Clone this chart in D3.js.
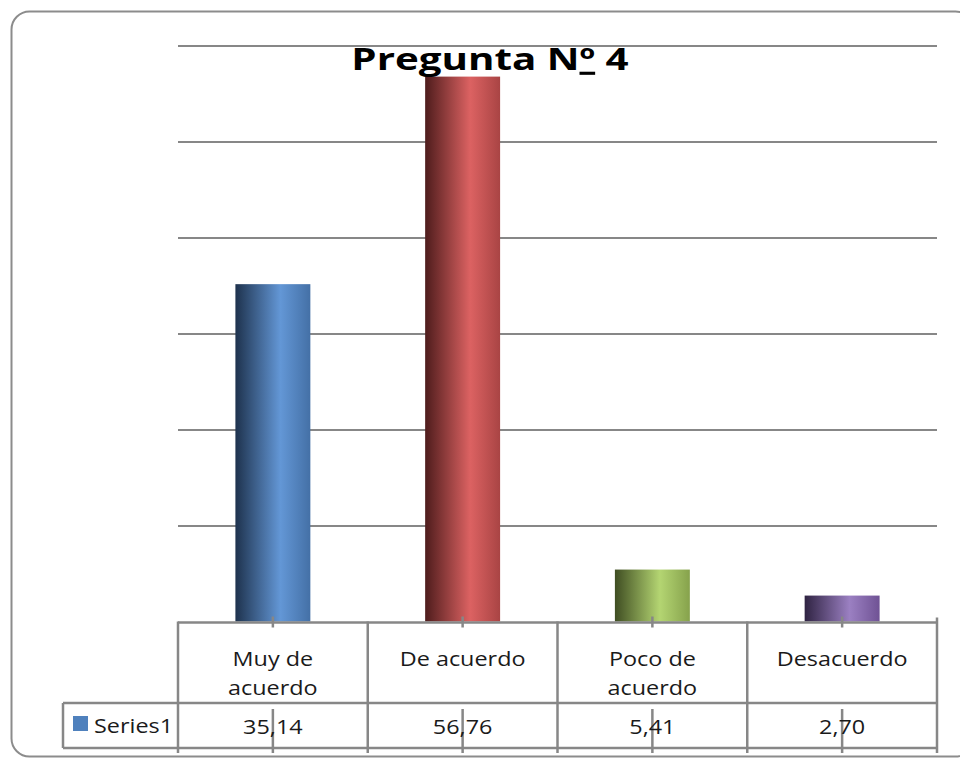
<!DOCTYPE html>
<html>
<head>
<meta charset="utf-8">
<script src="https://cdn.jsdelivr.net/npm/d3@7"></script>
<style>
  body { margin: 0; background: #fff; }
  svg { display: block; font-family: "Open Sans", Lato, sans-serif; }
</style>
</head>
<body>
<div class="canvas"></div>
<script>
// chart data
const title = ["Pregunta N", "º", " 4"];
const categories = ["Muy de acuerdo", "De acuerdo", "Poco de acuerdo", "Desacuerdo"];
const labelLines = [["Muy de", "acuerdo"], ["De acuerdo"], ["Poco de", "acuerdo"], ["Desacuerdo"]];
const values = [35.14, 56.76, 5.41, 2.70];
const seriesName = "Series1";
const yTicks = [10, 20, 30, 40, 50, 60];

// bar colours (dark edge, highlight, right edge)
const barColors = [
  ["#1e324d", "#6397d6", "#4470a6"],
  ["#4e1c1c", "#dc6262", "#a94444"],
  ["#3f4d22", "#b4d572", "#86a24c"],
  ["#2f2342", "#9b80c2", "#6f5294"],
];

// dimensions
const dims = { width: 960, height: 761 };
const plot = { left: 178, right: 937, top: 45.5, bottom: 621.5 };
const table = { catBottom: 703, valBottom: 748, keyLeft: 63 };
// the picture is stretched sideways, so text gets a horizontal scale
const textScale = 1.17;
const titleScale = 1.3;

const comma = d3.formatLocale({ decimal: ",", thousands: ".", grouping: [3], currency: ["", ""] }).format(".2f");

// svg
const svg = d3
  .select(".canvas")
  .append("svg")
  .attr("width", dims.width)
  .attr("height", dims.height);

// gradients
const defs = svg.append("defs");
barColors.forEach((c, i) => {
  const g = defs
    .append("linearGradient")
    .attr("id", `bar${i}`)
    .attr("x1", 0).attr("x2", 1).attr("y1", 0).attr("y2", 0);
  g.append("stop").attr("offset", "0%").attr("stop-color", c[0]);
  g.append("stop").attr("offset", "60%").attr("stop-color", c[1]);
  g.append("stop").attr("offset", "100%").attr("stop-color", c[2]);
});

// outer frame
svg
  .append("rect")
  .attr("x", 11.5)
  .attr("y", 11.5)
  .attr("width", 962)
  .attr("height", 745)
  .attr("rx", 18)
  .attr("fill", "none")
  .attr("stroke", "#8c8c8c")
  .attr("stroke-width", 2);

// scales
const x = d3
  .scaleBand()
  .domain(categories)
  .range([plot.left, plot.right])
  .padding(0);

const y = d3.scaleLinear().domain([0, 60]).range([plot.bottom, plot.top]);

const barW = x.bandwidth() * 0.395;

// gridlines
const grid = svg
  .append("g")
  .attr("transform", `translate(${plot.left},0)`)
  .call(
    d3.axisLeft(y)
      .tickValues(yTicks)
      .tickSize(-(plot.right - plot.left))
      .tickFormat("")
  );
grid.select(".domain").remove();
grid.selectAll("line").attr("stroke", "#878787").attr("stroke-width", 2);

// bars
svg
  .append("g")
  .selectAll("rect")
  .data(values)
  .enter()
  .append("rect")
  .attr("x", (d, i) => x(categories[i]) + (x.bandwidth() - barW) / 2)
  .attr("y", (d) => y(d))
  .attr("width", barW)
  .attr("height", (d) => y(0) - y(d))
  .attr("fill", (d, i) => `url(#bar${i})`);

// data table lines
const lines = svg.append("g").attr("stroke", "#878787").attr("stroke-width", 2.5);
const edges = categories.map((c) => x(c)).concat([plot.right]);
const centers = categories.map((c) => x(c) + x.bandwidth() / 2);

// horizontal
lines.append("line").attr("x1", plot.left).attr("x2", plot.right).attr("y1", plot.bottom + 1).attr("y2", plot.bottom + 1);
lines.append("line").attr("x1", table.keyLeft).attr("x2", plot.right).attr("y1", table.catBottom).attr("y2", table.catBottom);
lines.append("line").attr("x1", table.keyLeft).attr("x2", plot.right).attr("y1", table.valBottom).attr("y2", table.valBottom);
lines.append("line").attr("x1", table.keyLeft).attr("x2", table.keyLeft).attr("y1", table.catBottom).attr("y2", table.valBottom);

// vertical edges
lines
  .selectAll(".edge")
  .data(edges)
  .enter()
  .append("line")
  .attr("x1", (d) => d).attr("x2", (d) => d)
  .attr("y1", (d, i) => (i === edges.length - 1 ? plot.bottom - 4 : plot.bottom))
  .attr("y2", table.valBottom + 5);

// tick artifacts at category centres
lines
  .selectAll(".ctick")
  .data(centers)
  .enter()
  .append("line")
  .attr("x1", (d) => d).attr("x2", (d) => d)
  .attr("y1", plot.bottom - 5).attr("y2", plot.bottom + 6);
lines
  .selectAll(".vtick")
  .data(centers)
  .enter()
  .append("line")
  .attr("x1", (d) => d).attr("x2", (d) => d)
  .attr("y1", table.catBottom + 6).attr("y2", table.valBottom + 5);

// category labels
const labels = svg
  .append("g")
  .attr("font-size", 20)
  .attr("fill", "#1a1a1a")
  .attr("text-anchor", "middle");
labels
  .selectAll(".cat")
  .data(labelLines)
  .enter()
  .append("text")
  .attr("class", "cat")
  .attr("transform", (d, i) => `translate(${centers[i]},666) scale(${textScale},1)`)
  .selectAll("tspan")
  .data((d) => d)
  .enter()
  .append("tspan")
  .attr("x", 0)
  .attr("dy", (d, i) => (i === 0 ? 0 : 29))
  .text((d) => d);

// values row
labels
  .selectAll(".val")
  .data(values)
  .enter()
  .append("text")
  .attr("class", "val")
  .attr("transform", (d, i) => `translate(${centers[i]},734) scale(${textScale},1)`)
  .text((d) => comma(d));

// legend key
svg.append("rect").attr("x", 73).attr("y", 716).attr("width", 15).attr("height", 15).attr("fill", "#4f81bd");
svg
  .append("text")
  .attr("transform", `translate(94,733) scale(${textScale},1)`)
  .attr("font-size", 20)
  .attr("fill", "#1a1a1a")
  .text(seriesName);

// title
svg
  .append("text")
  .attr("transform", `translate(490,70) scale(${titleScale},1)`)
  .attr("text-anchor", "middle")
  .attr("font-size", 31)
  .attr("font-weight", "bold")
  .attr("fill", "#000")
  .selectAll("tspan")
  .data(title)
  .enter()
  .append("tspan")
  .attr("text-decoration", (d) => (d === "º" ? "underline" : null))
  .text((d) => d);
</script>
</body>
</html>
